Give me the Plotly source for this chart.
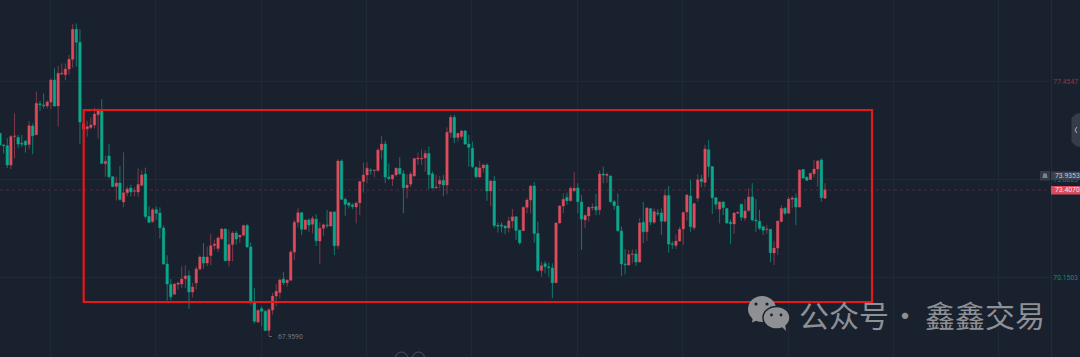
import plotly.graph_objects as go

opens = [75.52,75.09,75.06,74.34,75.40,75.37,75.15,75.23,75.10,75.79,75.47,76.62,76.58,76.54,76.69,77.51,76.54,77.73,77.71,77.92,78.28,79.40,78.92,75.68,75.69,75.74,75.83,76.21,76.35,74.39,74.68,
73.90,73.54,73.67,72.96,73.30,73.48,73.36,73.33,73.58,74.00,72.42,72.23,72.67,72.55,71.99,70.65,69.88,69.52,69.89,69.90,70.10,70.21,69.60,69.94,70.46,70.91,70.68,70.96,71.34,71.22,71.59,71.95,70.77,71.37,71.80,71.65,71.72,72.08,71.28,69.19,68.48,68.98,68.88,68.17,68.93,69.45,
69.58,70.09,69.95,70.04,71.09,72.20,72.56,71.94,72.29,72.13,72.32,71.50,71.98,72.10,72.06,72.59,71.33,74.49,73.06,72.92,72.85,72.77,72.93,73.72,73.97,74.15,74.13,74.13,74.90,75.12,73.89,73.82,73.97,74.22,74.01,73.49,73.62,73.93,74.56,74.56,74.60,74.77,74.01,73.48,73.63,73.76,73.59,75.55,76.12,75.37,75.40,75.61,75.12,74.96,74.25,73.89,74.23,74.34,73.37,73.74,72.09,72.10,72.06,71.99,72.25,72.41,71.91,71.89,72.76,73.03,73.56,71.78,70.40,70.66,70.54,70.50,69.95,72.18,
72.81,73.13,73.01,73.38,73.48,72.96,72.29,72.44,72.74,72.79,72.67,74.00,73.95,73.93,72.97,72.81,71.88,70.65,70.61,71.00,71.02,70.72,72.20,71.85,72.71,72.20,72.55,72.55,72.24,73.20,71.40,71.34,71.50,71.95,72.59,73.18,72.00,73.10,73.82,73.69,74.91,74.28,73.12,72.69,72.96,72.72,72.20,72.14,72.54,72.88,72.36,72.64,73.15,72.29,72.24,72.04,71.93,71.94,71.06,71.24,72.23,72.73,72.54,73.06,73.11,72.77,74.17,73.88,73.80,74.01,74.19,74.53,73.10]

highs = [75.52,75.09,75.34,75.46,76.27,75.46,75.46,75.27,75.98,75.89,77.08,76.73,77.01,76.76,77.57,77.95,78.03,78.13,78.13,78.44,79.59,79.62,79.41,75.92,75.99,76.11,76.48,76.45,76.79,74.68,75.12,
73.93,73.90,74.30,74.81,73.54,73.61,73.51,74.22,74.15,74.24,72.80,72.74,72.80,72.76,72.08,70.97,70.09,69.94,69.96,70.56,70.60,70.41,69.94,70.56,70.97,71.43,71.30,71.77,71.55,71.68,71.99,71.95,71.93,71.87,71.89,71.74,72.11,72.15,71.45,69.75,68.94,69.07,68.94,69.00,69.57,69.90,
70.10,70.34,70.08,71.17,72.29,72.72,72.56,72.29,72.35,72.44,72.50,72.20,72.16,72.66,72.60,72.59,74.55,74.55,73.12,72.97,72.91,72.97,73.74,74.44,74.44,74.22,74.15,74.96,75.42,75.25,74.40,73.99,74.24,74.63,74.15,74.00,74.09,74.60,74.80,74.92,74.90,75.02,74.09,73.97,73.93,73.97,75.74,76.21,76.21,75.52,75.65,75.65,75.46,75.21,74.28,74.49,74.40,74.40,73.78,73.93,72.19,72.20,72.10,72.41,72.70,72.41,71.91,72.79,73.10,73.58,73.71,72.23,70.73,70.76,70.71,70.67,72.20,72.85,
73.28,73.31,73.53,74.07,73.66,73.22,72.50,72.79,72.91,73.26,74.13,74.28,74.05,73.95,73.03,73.28,72.04,71.20,71.17,71.19,71.19,72.35,72.96,72.76,72.74,72.72,72.69,72.72,73.43,73.56,71.50,71.75,72.04,72.60,73.25,73.80,72.91,74.00,73.97,75.09,75.27,74.30,73.12,72.97,72.97,72.72,72.31,72.57,72.62,72.88,73.07,73.47,73.66,73.07,72.67,72.08,72.10,71.94,71.50,72.25,72.85,72.75,73.16,73.18,73.28,74.18,74.19,73.92,74.05,74.53,74.53,74.59,73.66]

lows = [75.09,74.77,74.22,74.19,74.59,74.96,75.02,74.80,74.94,74.74,75.46,76.35,76.45,76.45,76.42,76.52,75.77,77.70,77.51,77.72,77.97,78.01,75.12,75.65,75.40,75.67,75.71,75.33,74.38,73.90,73.84,
73.51,73.01,73.01,72.76,73.17,73.17,73.17,73.17,73.54,72.34,72.18,72.18,72.30,71.59,70.62,69.28,69.29,69.50,69.69,69.75,69.75,68.98,69.40,69.69,70.40,70.47,70.56,70.60,71.18,71.09,71.55,70.75,70.56,70.75,71.37,71.43,71.68,71.27,69.13,68.42,68.45,68.32,68.14,67.95,68.76,69.07,
69.35,69.86,69.80,70.01,70.80,72.01,71.73,71.91,71.85,71.79,71.32,70.65,71.69,71.98,72.04,70.98,71.21,73.03,72.44,72.72,72.70,72.16,72.47,73.31,73.66,73.97,73.88,74.09,74.55,73.66,73.78,73.56,73.91,73.97,72.54,73.10,73.51,73.90,74.34,74.34,74.09,73.44,73.47,73.47,73.47,73.18,73.25,75.36,75.15,75.21,75.30,75.10,74.28,74.22,73.84,73.87,74.05,73.00,72.81,71.98,71.82,71.82,71.75,71.82,71.98,71.54,71.36,71.88,72.54,72.54,71.44,70.36,70.17,70.30,70.17,69.37,69.93,72.14,
72.54,72.85,72.97,73.34,72.54,71.17,71.98,72.23,72.64,72.47,72.47,73.66,73.68,72.93,72.66,71.85,70.20,70.26,70.58,70.67,70.57,70.71,71.42,71.50,72.10,72.14,72.44,71.73,72.20,71.07,71.21,71.21,71.48,71.36,72.26,71.85,71.91,72.97,73.51,73.51,73.88,72.51,72.69,72.16,72.47,72.14,71.39,71.77,72.51,72.26,72.26,72.60,72.23,71.85,71.91,71.73,71.77,70.71,70.61,70.98,72.20,72.47,72.51,72.72,72.10,72.76,73.83,73.74,73.78,73.87,73.53,72.97,73.07]

closes = [75.09,75.06,74.34,75.40,75.42,75.12,75.12,75.09,75.80,75.43,76.64,76.59,76.55,76.69,77.51,76.54,77.76,77.76,77.92,78.28,79.40,78.92,75.94,75.89,75.77,75.83,76.24,76.35,74.40,74.48,73.90,
73.54,73.67,73.05,73.30,73.44,73.33,73.38,73.61,73.97,72.42,72.20,72.67,72.54,72.00,70.65,69.90,69.42,69.90,69.94,70.09,70.20,69.60,69.79,70.46,70.91,70.68,70.91,71.33,71.39,71.62,71.95,70.77,71.37,71.80,71.58,71.72,72.08,71.28,69.23,68.51,68.92,68.88,68.17,68.94,69.45,69.63,
70.05,69.95,70.04,71.09,72.20,72.56,71.94,72.29,72.10,72.34,71.51,71.98,72.11,72.08,72.59,71.33,74.49,73.06,72.88,72.84,72.79,72.92,73.72,73.97,74.22,74.13,74.15,74.90,75.12,73.89,73.84,73.97,74.22,74.01,73.49,73.59,74.00,74.58,74.59,74.59,74.77,73.98,73.48,73.51,73.76,73.59,75.56,76.12,75.36,75.52,75.61,75.12,75.00,74.28,73.90,74.23,74.34,73.37,73.74,72.08,72.06,72.06,71.99,72.25,72.41,71.90,71.44,72.76,73.03,73.56,71.78,70.40,70.58,70.55,70.51,69.95,72.18,72.81,
73.06,73.01,73.47,73.47,72.97,72.32,72.46,72.76,72.76,72.66,74.00,73.97,73.99,72.97,72.82,71.89,70.65,70.62,71.00,71.02,70.72,72.18,71.85,72.74,72.21,72.60,72.52,72.24,73.20,71.39,71.38,71.50,71.94,72.57,73.22,72.04,72.90,73.79,73.72,74.94,74.28,73.12,72.88,72.96,72.75,72.18,72.15,72.55,72.57,72.39,72.62,73.15,72.29,72.26,71.98,71.91,71.95,71.07,71.24,72.25,72.72,72.54,73.07,73.11,72.77,74.15,73.85,73.77,74.03,74.19,74.49,73.12,73.42]

n = min(len(opens), len(highs), len(lows), len(closes))
opens, highs, lows, closes = opens[:n], highs[:n], lows[:n], closes[:n]
bar_index = list(range(n))

axis_ticks = [77.4547, 73.8025, 70.1503]
axis_labels = ['<span style="color:#8a3a48">77.4547</span>',
               '<span style="color:#0e8a74">73.8025</span>',
               '<span style="color:#0e8a74">70.1503</span>']
last_price = 73.4070
alert_price = 73.9353
low_price = 67.9590
low_bar = 74
box_left, box_right, box_top, box_bottom = 23.03, 239.96, 76.391, 69.229

BG = "#1a212e"
RED, GREEN = "#de4c5c", "#0ca88c"
RED_W, GREEN_W = "#7d3a4a", "#0e7a6e"
GRID = "#1f2a34"
WM = "#8e9094"
W, H, R = 1080, 357, 29
PW = W - R


def px(x):
    return x / PW


def py(y):
    return 1 - y / H


fig = go.Figure()
fig.add_trace(go.Candlestick(
    x=bar_index, open=opens, high=highs, low=lows, close=closes, whiskerwidth=0,
    increasing=dict(line=dict(color=RED_W, width=1), fillcolor="rgba(0,0,0,0)"),
    decreasing=dict(line=dict(color=GREEN_W, width=1), fillcolor="rgba(0,0,0,0)"),
    hoverinfo="skip", showlegend=False))
fig.add_trace(go.Candlestick(
    x=bar_index, open=opens, close=closes,
    high=[max(a, b) for a, b in zip(opens, closes)],
    low=[min(a, b) for a, b in zip(opens, closes)], whiskerwidth=0,
    increasing=dict(line=dict(color=RED, width=0), fillcolor=RED),
    decreasing=dict(line=dict(color=GREEN, width=0), fillcolor=GREEN),
    hoverinfo="skip", showlegend=False))

shapes = [
    dict(type="line", xref="paper", x0=0, x1=1, yref="y", y0=last_price, y1=last_price,
         line=dict(color="#4e2c3a", width=1, dash="dot"), layer="below"),
    dict(type="rect", xref="x", yref="y", x0=box_left, x1=box_right, y0=box_bottom, y1=box_top,
         line=dict(color="#e8171a", width=2.2), fillcolor="rgba(0,0,0,0)", layer="above"),
    # tags in the price gutter
    dict(type="rect", xref="paper", yref="paper", x0=px(1051), x1=px(1080), y0=py(180), y1=py(171.5),
         fillcolor="#39414f", line=dict(width=0)),
    dict(type="rect", xref="paper", yref="paper", x0=px(1040), x1=px(1050), y0=py(180.5), y1=py(171),
         fillcolor="#333b49", line=dict(width=0)),
    dict(type="path", xref="paper", yref="paper", line=dict(width=0), fillcolor="#7c828d",
         path=f"M {px(1042.5)} {py(178)} L {px(1047.5)} {py(178)} L {px(1046.8)} {py(174)} "
              f"L {px(1045)} {py(173)} L {px(1043.2)} {py(174)} Z"),
    dict(type="rect", xref="paper", yref="paper", x0=px(1051), x1=px(1080), y0=py(194.5), y1=py(186),
         fillcolor="#d94b5c", line=dict(width=0)),
    # collapse handle
    dict(type="path", xref="paper", yref="paper", fillcolor="#353d4b", line=dict(width=0),
         path=f"M {px(1080)} {py(113)} L {px(1076)} {py(114)} L {px(1071.5)} {py(118)} "
              f"L {px(1071.5)} {py(142)} L {px(1076)} {py(146)} L {px(1080)} {py(147)} Z"),
    dict(type="path", xref="paper", yref="paper", line=dict(color="#aeb3bb", width=1),
         path=f"M {px(1077)} {py(127)} L {px(1075)} {py(130)} L {px(1077)} {py(133)}"),
    # low marker leader
    dict(type="line", xref="paper", yref="paper", x0=px(269), x1=px(275), y0=py(336.5), y1=py(336.5),
         line=dict(color="#5c636f", width=1, dash="dot")),
    # bottom round buttons
    dict(type="circle", xref="paper", yref="paper", x0=px(395.5), x1=px(407.5), y0=py(364), y1=py(352),
         line=dict(color="#4b5361", width=1), fillcolor="rgba(0,0,0,0)"),
    dict(type="circle", xref="paper", yref="paper", x0=px(412.5), x1=px(424.5), y0=py(364), y1=py(352),
         line=dict(color="#4b5361", width=1), fillcolor="rgba(0,0,0,0)"),
    # watermark icon
    dict(type="circle", xref="paper", yref="paper", x0=px(748), x1=px(776), y0=py(322), y1=py(296),
         fillcolor=WM, line=dict(width=0)),
    dict(type="path", xref="paper", yref="paper", fillcolor=WM, line=dict(width=0),
         path=f"M {px(753)} {py(317)} L {px(752)} {py(322.5)} L {px(758)} {py(320)} Z"),
    dict(type="circle", xref="paper", yref="paper", x0=px(763), x1=px(790), y0=py(329), y1=py(306.5),
         fillcolor=WM, line=dict(color="#1a212e", width=1.5)),
    dict(type="path", xref="paper", yref="paper", fillcolor=WM, line=dict(width=0),
         path=f"M {px(781)} {py(326)} L {px(786)} {py(331)} L {px(785)} {py(324)} Z"),
]
for ex, ey, er in [(756, 304, 1.6), (767, 304, 1.6), (771.5, 315, 1.4), (781, 315, 1.4)]:
    shapes.append(dict(type="circle", xref="paper", yref="paper", x0=px(ex - er), x1=px(ex + er),
                       y0=py(ey + er), y1=py(ey - er), fillcolor="#1a212e", line=dict(width=0)))

annotations = [
    dict(xref="paper", yref="paper", x=px(1053), y=py(176), xanchor="left", yanchor="middle",
         text=f"{alert_price:.4f}", showarrow=False, font=dict(size=6.8, color="#c4c8ce", family="Roboto")),
    dict(xref="paper", yref="y", x=px(1053), y=last_price, xanchor="left", yanchor="middle",
         text=f"{last_price:.4f}", showarrow=False, font=dict(size=6.8, color="#f3e6e8", family="Roboto")),
    dict(xref="paper", yref="paper", x=px(275.5), y=py(337), xanchor="left", yanchor="middle",
         text=f"{low_price:.4f}", showarrow=False, font=dict(size=6.8, color="#70777f", family="Roboto")),
    dict(xref="paper", yref="paper", x=px(796.5), y=py(313.5), xanchor="left", yanchor="middle",
         text="公众号", showarrow=False, font=dict(size=30, color=WM, family="Noto Sans CJK SC")),
    dict(xref="paper", yref="paper", x=px(905), y=py(313.5), xanchor="center", yanchor="middle",
         text="·", showarrow=False, font=dict(size=30, color=WM, family="Noto Sans CJK SC")),
    dict(xref="paper", yref="paper", x=px(923), y=py(313.5), xanchor="left", yanchor="middle",
         text="鑫鑫交易", showarrow=False, font=dict(size=30, color=WM, family="Noto Sans CJK SC")),
]

fig.update_layout(
    width=W, height=H, autosize=False, margin=dict(l=0, r=R, t=0, b=0, pad=0),
    paper_bgcolor=BG, plot_bgcolor=BG, boxmode="overlay", boxgap=0.1, showlegend=False,
    shapes=shapes, annotations=annotations, hovermode=False,
    xaxis=dict(range=[0, 289.2], rangeslider=dict(visible=False), showticklabels=False,
               showgrid=True, gridcolor=GRID, gridwidth=1, tick0=13.84, dtick=29, zeroline=False, ticks=""),
    yaxis=dict(range=[67.177, 80.495], side="right", tickmode="array", tickvals=axis_ticks,
               ticktext=axis_labels, showgrid=True, gridcolor=GRID, gridwidth=1, zeroline=False,
               showline=True, linecolor="#232d39", linewidth=1, ticks="", ticklen=0,
               tickfont=dict(size=6.8, family="Roboto")),
)

fig.write_html("out.html", config={"displayModeBar": False}, post_script=(
    "document.documentElement.style.background='#1a212e';"
    "document.body.style.margin='0';document.body.style.background='#1a212e';"
    "document.body.style.overflow='hidden';"))
